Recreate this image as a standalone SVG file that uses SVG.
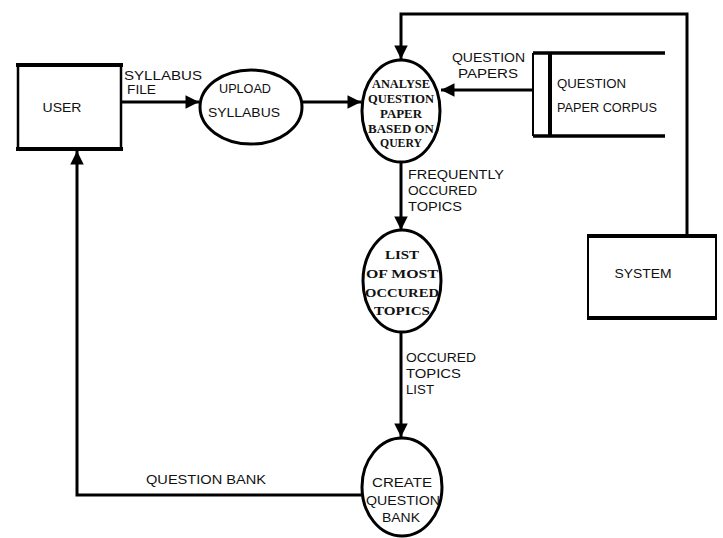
<svg xmlns="http://www.w3.org/2000/svg" width="723" height="538" viewBox="0 0 723 538">
<style>
.ln{fill:none;stroke:#000;stroke-width:3}
.el{fill:#fff;stroke:#000;stroke-width:3}
.t{font-family:"Liberation Sans",Arial,sans-serif;font-size:12px;fill:#111}
.s{font-family:"Liberation Serif","Times New Roman",serif;font-size:12px;fill:#111;font-weight:bold}
.m{text-anchor:middle}
</style>
<defs>
<marker id="ah" viewBox="0 0 10 10" refX="10" refY="5" markerWidth="5" markerHeight="4.5" orient="auto" markerUnits="strokeWidth">
<path d="M0,0 L10,5 L0,10 z" fill="#000"/>
</marker>
</defs>
<rect width="723" height="538" fill="#fff"/>
<g id="connectors">
<line class="ln" x1="122" y1="102" x2="199" y2="102" marker-end="url(#ah)"/>
<line class="ln" x1="302" y1="102" x2="361" y2="102" marker-end="url(#ah)"/>
<line class="ln" x1="533" y1="90" x2="441" y2="90" marker-end="url(#ah)"/>
<polyline class="ln" points="687,236 687,14 401,14 401,59" marker-end="url(#ah)"/>
<line class="ln" x1="401" y1="162" x2="401" y2="230" marker-end="url(#ah)"/>
<line class="ln" x1="401" y1="333" x2="401" y2="437" marker-end="url(#ah)"/>
<polyline class="ln" points="362,495 77,495 77,151" marker-end="url(#ah)"/>
<text class="t" x="124" y="80" textLength="78" lengthAdjust="spacingAndGlyphs">SYLLABUS</text>
<text class="t" x="127" y="94" textLength="29" lengthAdjust="spacingAndGlyphs">FILE</text>
<text class="t" x="452" y="62" textLength="73" lengthAdjust="spacingAndGlyphs">QUESTION</text>
<text class="t" x="458" y="78" textLength="60" lengthAdjust="spacingAndGlyphs">PAPERS</text>
<text class="t" x="408" y="179" textLength="96" lengthAdjust="spacingAndGlyphs">FREQUENTLY</text>
<text class="t" x="408" y="195" textLength="69" lengthAdjust="spacingAndGlyphs">OCCURED</text>
<text class="t" x="408" y="211" textLength="54" lengthAdjust="spacingAndGlyphs">TOPICS</text>
<text class="t" x="406" y="362" textLength="70" lengthAdjust="spacingAndGlyphs">OCCURED</text>
<text class="t" x="406" y="378" textLength="55" lengthAdjust="spacingAndGlyphs">TOPICS</text>
<text class="t" x="406" y="394" textLength="28" lengthAdjust="spacingAndGlyphs">LIST</text>
<text class="t" x="146" y="484" textLength="120" lengthAdjust="spacingAndGlyphs">QUESTION BANK</text>
</g>
<g id="user">
<rect x="18" y="65" width="103" height="84" fill="#fff" stroke="#000" stroke-width="2.5"/>
<line x1="16" y1="65" x2="123" y2="65" stroke="#000" stroke-width="4"/>
<line x1="16" y1="149" x2="123" y2="149" stroke="#000" stroke-width="4"/>
<text class="t m" x="62" y="112" style="font-size:13px" textLength="39" lengthAdjust="spacingAndGlyphs">USER</text>
</g>
<g id="upload">
<ellipse class="el" cx="251" cy="107" rx="51" ry="37"/>
<text class="t m" x="245" y="93" textLength="52" lengthAdjust="spacingAndGlyphs">UPLOAD</text>
<text class="t m" x="244" y="117" textLength="72" lengthAdjust="spacingAndGlyphs">SYLLABUS</text>
</g>
<g id="analyse">
<ellipse class="el" cx="401" cy="111" rx="39" ry="51"/>
<text class="s m" x="401" y="88" textLength="58" lengthAdjust="spacingAndGlyphs">ANALYSE</text>
<text class="s m" x="401" y="103" textLength="66" lengthAdjust="spacingAndGlyphs">QUESTION</text>
<text class="s m" x="401" y="118" textLength="42" lengthAdjust="spacingAndGlyphs">PAPER</text>
<text class="s m" x="401" y="133" textLength="66" lengthAdjust="spacingAndGlyphs">BASED ON</text>
<text class="s m" x="401" y="147" textLength="42" lengthAdjust="spacingAndGlyphs">QUERY</text>
</g>
<g id="corpus">
<line x1="533" y1="53" x2="665" y2="53" stroke="#000" stroke-width="3.5"/>
<line x1="533" y1="136" x2="665" y2="136" stroke="#000" stroke-width="3.5"/>
<line x1="533" y1="53" x2="533" y2="136" stroke="#000" stroke-width="2"/>
<line x1="550" y1="53" x2="550" y2="136" stroke="#000" stroke-width="4"/>
<text class="t" x="557" y="88" textLength="69" lengthAdjust="spacingAndGlyphs">QUESTION</text>
<text class="t" x="557" y="112" textLength="100" lengthAdjust="spacingAndGlyphs">PAPER CORPUS</text>
</g>
<g id="list">
<ellipse class="el" cx="402" cy="281" rx="39" ry="51"/>
<text class="s m" x="402" y="259" textLength="34" lengthAdjust="spacingAndGlyphs">LIST</text>
<text class="s m" x="402" y="278" textLength="72" lengthAdjust="spacingAndGlyphs">OF MOST</text>
<text class="s m" x="402" y="297" textLength="74" lengthAdjust="spacingAndGlyphs">OCCURED</text>
<text class="s m" x="402" y="315" textLength="56" lengthAdjust="spacingAndGlyphs">TOPICS</text>
</g>
<g id="create">
<ellipse class="el" cx="402" cy="487" rx="40" ry="49"/>
<text class="t m" x="402" y="487" textLength="60" lengthAdjust="spacingAndGlyphs">CREATE</text>
<text class="t m" x="403" y="505" textLength="74" lengthAdjust="spacingAndGlyphs">QUESTION</text>
<text class="t m" x="401" y="522" textLength="38" lengthAdjust="spacingAndGlyphs">BANK</text>
</g>
<g id="system">
<rect x="588" y="236" width="128" height="82" fill="#fff" stroke="#000" stroke-width="2"/>
<line x1="587" y1="236" x2="717" y2="236" stroke="#000" stroke-width="4"/>
<line x1="587" y1="318" x2="717" y2="318" stroke="#000" stroke-width="4"/>
<text class="t m" x="643" y="278" style="font-size:13px" textLength="57" lengthAdjust="spacingAndGlyphs">SYSTEM</text>
</g>
</svg>
